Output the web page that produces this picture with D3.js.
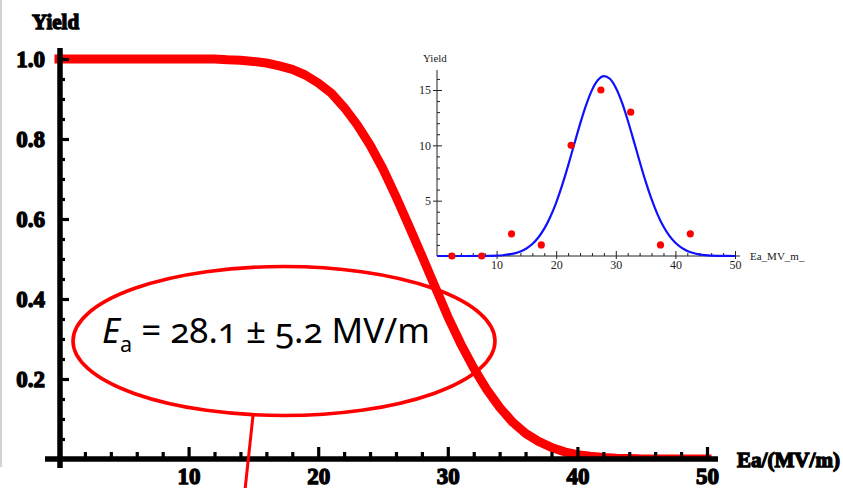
<!DOCTYPE html>
<html>
<head>
<meta charset="utf-8">
<script src="https://cdn.jsdelivr.net/npm/d3@7/dist/d3.min.js"></script>
<style>
  body { margin: 0; background: #fff; }
  svg { display: block; }
  .bold-lbl { font-family: "Liberation Serif", "Times New Roman", serif; font-weight: bold; fill: #000; stroke: #000; stroke-width: 1.3px; paint-order: stroke; }
  .inset-lbl { font-family: "Liberation Serif", "Times New Roman", serif; fill: #222; }
</style>
</head>
<body>
<svg id="chart" width="843" height="488"></svg>
<script>
// ---- Main plot: cumulative yield vs accelerating gradient ----
const mainEa = [0,1,2,3,4,5,6,7,8,9,10,11,12,13,14,15,16,17,18,19,20,21,22,23,24,25,
                26,27,28,29,30,31,32,33,34,35,36,37,38,39,40,41,42,43,44,45,46,47,48,49,50];
const mainYield = [1,1,1,1,1,1,1,1,1,1,1,1,1,0.998,0.997,0.994,0.990,0.983,0.974,0.960,
                   0.940,0.915,0.879,0.836,0.785,0.725,0.656,0.583,0.508,0.432,0.356,0.288,
                   0.227,0.174,0.129,0.092,0.064,0.044,0.029,0.018,0.011,0.007,0.004,0.002,
                   0.001,0,0,0,0,0,0];
const mainXTicks = [10,20,30,40,50];
const mainXMinor = [2,4,6,8,12,14,16,18,22,24,26,28,32,34,36,38,42,44,46,48];
const mainYTicks = [0.2,0.4,0.6,0.8,1.0];
const mainYMinor = [0.05,0.1,0.15,0.25,0.3,0.35,0.45,0.5,0.55,0.65,0.7,0.75,0.85,0.9,0.95];

// ---- Inset: yield per gradient bin with Gaussian fit ----
const binEa    = [2.5,7.5,12.5,17.5,22.5,27.5,32.5,37.5,42.5];
const binCount = [0,0,2,1,10,15,13,1,2];
const fitEa = [0,5,8,10,11,12,13,14,15,16,17,18,19,20,21,22,23,24,25,26,27,28,29,30,
               31,32,33,34,35,36,37,38,39,40,41,42,43,44,45,46,47,48,50];
const fitYield = [0,0.001,0.01,0.04,0.07,0.14,0.24,0.41,0.68,1.08,1.67,2.47,3.52,4.83,
                  6.40,8.17,10.05,11.92,13.61,14.99,15.90,16.26,16.02,15.21,13.92,12.27,
                  10.43,8.54,6.74,5.13,3.76,2.66,1.81,1.19,0.75,0.46,0.27,0.15,0.08,0.04,
                  0.02,0.01,0];
const insetXTicks = [10,20,30,40,50];
const insetXMinor = [2,4,6,8,12,14,16,18,22,24,26,28,32,34,36,38,42,44,46,48];
const insetYTicks = [5,10,15];
const insetYMinor = [1,2,3,4,6,7,8,9,11,12,13,14,16];

// Fit result quoted in the annotation
const eaMean = 28.1, eaSigma = 5.2;

const svg = d3.select("#chart");

// light frame line along the left edge
svg.append("line").attr("x1", 1).attr("x2", 1).attr("y1", 0).attr("y2", 467)
  .attr("stroke", "#c4c4c4").attr("stroke-width", 1.5);

// ---------- main plot ----------
const x = d3.scaleLinear().domain([0, 50]).range([59, 707]);
const y = d3.scaleLinear().domain([0, 1]).range([459, 59]);

svg.append("defs").append("clipPath").attr("id", "plotClip")
  .append("rect").attr("x", 0).attr("y", 0).attr("width", 843).attr("height", y(0));

svg.append("path")
  .datum(mainEa.map((e, i) => [e, mainYield[i]]))
  .attr("clip-path", "url(#plotClip)")
  .attr("fill", "none")
  .attr("stroke", "#ff0000")
  .attr("stroke-width", 9)
  .attr("stroke-linecap", "square")
  .attr("stroke-linejoin", "round")
  .attr("d", d3.line().x(d => x(d[0])).y(d => y(d[1])));

// axis lines (extended past the origin like the original frame)
svg.append("line").attr("x1", x(0) + 1).attr("x2", x(0) + 1).attr("y1", 48).attr("y2", 468)
  .attr("stroke", "#000").attr("stroke-width", 5.5);
svg.append("line").attr("x1", 45).attr("x2", 718).attr("y1", y(0)).attr("y2", y(0))
  .attr("stroke", "#000").attr("stroke-width", 5.5);

function styleMainAxis(g) {
  g.select(".domain").remove();
  g.selectAll(".tick line").attr("stroke", "#000").attr("stroke-width", 3.2);
  g.selectAll(".tick text").attr("class", "bold-lbl").attr("font-size", 23);
}

const gx = svg.append("g").attr("transform", `translate(0,${y(0)})`);
gx.call(d3.axisBottom(x).tickValues(mainXMinor).tickSize(-7).tickFormat(""));
gx.call(styleMainAxis);
const gx2 = svg.append("g").attr("transform", `translate(0,${y(0)})`);
gx2.call(d3.axisBottom(x).tickValues(mainXTicks).tickSize(-12).tickPadding(9).tickFormat(d3.format("d")));
gx2.call(styleMainAxis);

const gy = svg.append("g").attr("transform", `translate(${x(0) + 1},0)`);
gy.call(d3.axisLeft(y).tickValues(mainYMinor).tickSize(-5).tickFormat(""));
gy.call(styleMainAxis);
const gy2 = svg.append("g").attr("transform", `translate(${x(0) + 1},0)`);
gy2.call(d3.axisLeft(y).tickValues(mainYTicks).tickSize(-9).tickPadding(15).tickFormat(d3.format(".1f")));
gy2.call(styleMainAxis);

svg.append("text").attr("class", "bold-lbl").attr("font-size", 21)
  .attr("x", 32).attr("y", 29).text("Yield");
svg.append("text").attr("class", "bold-lbl").attr("font-size", 21)
  .attr("x", 737).attr("y", 467)
  .attr("textLength", 103).attr("lengthAdjust", "spacingAndGlyphs")
  .text("Ea/(MV/m)");

// ---------- inset plot ----------
const xi = d3.scaleLinear().domain([0, 50]).range([437, 735]);
const yi = d3.scaleLinear().domain([0, 15]).range([256, 90]);

svg.append("line").attr("x1", xi(0)).attr("x2", xi(0)).attr("y1", yi(0)).attr("y2", 70)
  .attr("stroke", "#222").attr("stroke-width", 1);
svg.append("line").attr("x1", xi(0)).attr("x2", 740).attr("y1", yi(0)).attr("y2", yi(0))
  .attr("stroke", "#222").attr("stroke-width", 1);

function styleInsetAxis(g) {
  g.select(".domain").remove();
  g.selectAll(".tick line").attr("stroke", "#222").attr("stroke-width", 1);
  g.selectAll(".tick text").attr("class", "inset-lbl").attr("font-size", 12);
}
const ixa = svg.append("g").attr("transform", `translate(0,${yi(0)})`);
ixa.call(d3.axisBottom(xi).tickValues(insetXMinor).tickSize(-3).tickFormat("")).call(styleInsetAxis);
const ixb = svg.append("g").attr("transform", `translate(0,${yi(0)})`);
ixb.call(d3.axisBottom(xi).tickValues(insetXTicks).tickSize(-5).tickPadding(4).tickFormat(d3.format("d"))).call(styleInsetAxis);
const ixc = svg.append("g").attr("transform", `translate(0,${yi(0)})`);
ixc.call(d3.axisBottom(xi).tickValues(insetXTicks).tickSize(3).tickFormat("")).call(styleInsetAxis);

const iya = svg.append("g").attr("transform", `translate(${xi(0)},0)`);
iya.call(d3.axisLeft(yi).tickValues(insetYMinor).tickSize(-3).tickFormat("")).call(styleInsetAxis);
const iyb = svg.append("g").attr("transform", `translate(${xi(0)},0)`);
iyb.call(d3.axisLeft(yi).tickValues(insetYTicks).tickSize(-5).tickPadding(6).tickFormat(d3.format("d"))).call(styleInsetAxis);
const iyc = svg.append("g").attr("transform", `translate(${xi(0)},0)`);
iyc.call(d3.axisLeft(yi).tickValues(insetYTicks).tickSize(4).tickFormat("")).call(styleInsetAxis);

svg.append("text").attr("class", "inset-lbl").attr("font-size", 11)
  .attr("x", 423).attr("y", 62).text("Yield");
svg.append("text").attr("class", "inset-lbl").attr("font-size", 11)
  .attr("x", 750).attr("y", 260).text("Ea_MV_m_");

svg.append("path")
  .datum(fitEa.map((e, i) => [e, fitYield[i]]))
  .attr("fill", "none")
  .attr("stroke", "#1010ff")
  .attr("stroke-width", 2.2)
  .attr("d", d3.line().curve(d3.curveMonotoneX).x(d => xi(d[0])).y(d => yi(d[1])));

svg.append("g").selectAll("circle")
  .data(binEa.map((e, i) => [e, binCount[i]]))
  .join("circle")
  .attr("cx", d => xi(d[0])).attr("cy", d => yi(d[1])).attr("r", 3.6)
  .attr("fill", "#ff0000");

// ---------- annotation ----------
const note = { cx: 284, cy: 341, rx: 211, ry: 74.5 };
svg.append("ellipse")
  .attr("cx", note.cx).attr("cy", note.cy).attr("rx", note.rx).attr("ry", note.ry)
  .attr("fill", "none").attr("stroke", "#ff0000").attr("stroke-width", 3.6);
svg.append("line")
  .attr("x1", 253).attr("y1", note.cy + note.ry).attr("x2", 245).attr("y2", 490)
  .attr("stroke", "#ff0000").attr("stroke-width", 3);

const noteText = svg.append("text")
  .attr("font-family", "'Noto Sans', 'Open Sans', sans-serif")
  .attr("font-size", 34)
  .attr("fill", "#000")
  .style("font-variant-numeric", "oldstyle-nums");
noteText.append("tspan").attr("font-style", "italic").text("E");
noteText.append("tspan").attr("font-size", 21).attr("dy", 9).text("a");
noteText.append("tspan").attr("dy", -9)
  .text(` = ${eaMean.toFixed(1)} \u00b1 ${eaSigma.toFixed(1)} MV/m`);
const bb = noteText.node().getBBox();
const targetW = 328;
noteText.attr("transform", `translate(102,343) scale(${targetW / bb.width},1)`);
</script>
</body>
</html>
